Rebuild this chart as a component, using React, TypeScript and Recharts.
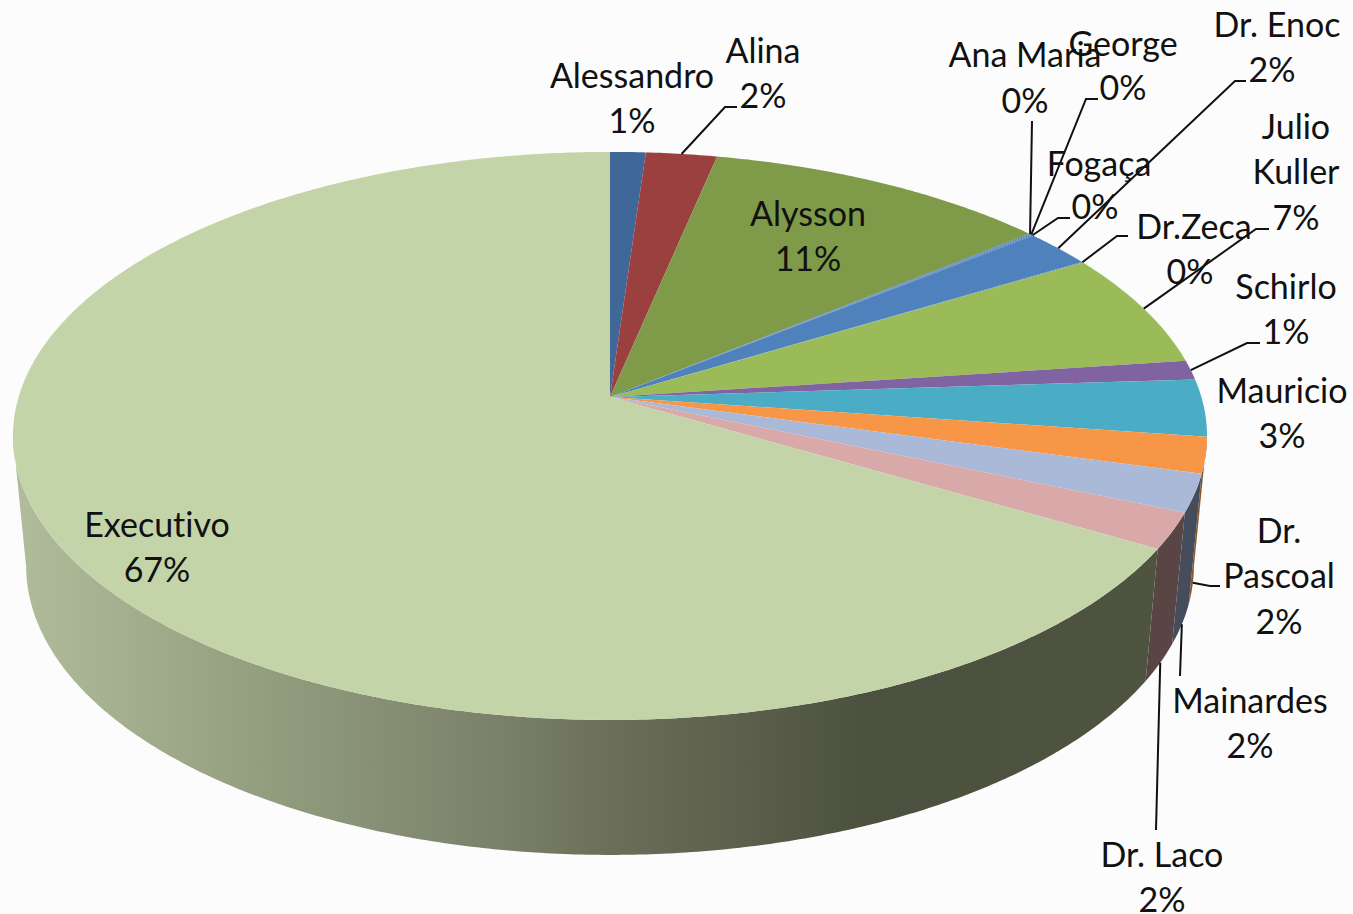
// App.tsx - 3D look pie of share per doctor
import React from "react";
import { PieChart, Pie, Cell } from "recharts";

const NAMES = [
  "Alessandro", "Alina", "Alysson", "Ana Maria", "George", "Fogaça", "Dr. Enoc", "Dr.Zeca",
  "Julio Kuller", "Schirlo", "Mauricio", "Dr. Pascoal", "Mainardes", "Dr. Laco", "Executivo",
];
const VALUES = [1.1, 2.2, 10.75, 0.05, 0.05, 0.05, 2.15, 0.05, 6.55, 1.1, 3.25, 2.05, 2.15, 2.05, 66.7];
const COLORS = [
  "#3f6797", "#9a4140", "#7f9a48", "#4f81bd", "#4f81bd", "#4f81bd", "#4f81bd", "#4f81bd",
  "#9bbb59", "#8064a2", "#4bacc6", "#f79646", "#a9b9d7", "#d9a8a8", "#c4d4a9",
];
const WALLS = [
  "#333", "#333", "#333", "#333", "#333", "#333", "#333", "#333",
  "#333", "#333", "#333", "#8b5624", "#454d5c", "#594644", "url(#execWall)",
];

// label placement: centre x, baselines, leader line points after the rim anchor
type Lab = { x: number; pctX?: number; lines: string[]; base: number[]; lead?: number[][]; wall?: number };
const LABELS: Lab[] = [
  { x: 632, lines: ["Alessandro"], base: [88, 133] },
  { x: 763, lines: ["Alina"], base: [63, 108], lead: [[725, 107], [737, 107]] },
  { x: 808, lines: ["Alysson"], base: [226, 271] },
  { x: 1025, lines: ["Ana Maria"], base: [67, 113], lead: [[1032, 121]] },
  { x: 1123, lines: ["George"], base: [56, 100], lead: [[1086, 99], [1098, 99]] },
  { x: 1099, pctX: 1095, lines: ["Fogaça"], base: [176, 219], lead: [[1058, 218], [1070, 218]] },
  { x: 1277, pctX: 1272, lines: ["Dr. Enoc"], base: [37, 82], lead: [[1235, 81], [1246, 81]] },
  { x: 1194, pctX: 1190, lines: ["Dr.Zeca"], base: [239, 284], lead: [[1117, 236], [1128, 236]] },
  { x: 1296, lines: ["Julio", "Kuller"], base: [139, 184, 230], lead: [[1256, 229], [1269, 229]] },
  { x: 1286, lines: ["Schirlo"], base: [299, 344], lead: [[1247, 343], [1260, 343]] },
  { x: 1282, lines: ["Mauricio"], base: [403, 448] },
  { x: 1279, lines: ["Dr.", "Pascoal"], base: [543, 588, 634], lead: [[1210, 586], [1220, 586]], wall: 0.98 },
  { x: 1250, lines: ["Mainardes"], base: [713, 758], lead: [[1180, 676]], wall: 1 },
  { x: 1162, lines: ["Dr. Laco"], base: [867, 912], lead: [[1156, 830]], wall: 1 },
  { x: 157, lines: ["Executivo"], base: [537, 582] },
];

// tilt of the disc: a rim angle goes through a perspective map, so the hub sits above the ellipse centre
const TILT = 0.137;
const FLAT_X = 0.9906;
const FLAT_Y = 0.4668;
const WALL_SCALE = 0.978;
const WALL_FROM = 98;
const WALL_TO = 262;

function rimPoint(cx: number, cy: number, r: number, clock: number) {
  const u = Math.sin((clock * Math.PI) / 180);
  const v = Math.cos((clock * Math.PI) / 180);
  const w = 1 + TILT * v;
  return { x: cx + (r * FLAT_X * u) / w, y: cy - (r * FLAT_Y * v) / w, v };
}

function wallPoint(cx: number, cy: number, r: number, clock: number) {
  const p = rimPoint(cx, cy, r, clock);
  const drop = 129 - 6 * Math.min(p.v, 0);
  return { x: cx + (p.x - cx) * WALL_SCALE, y: p.y + drop };
}

const SliceShape = (props: any) => {
  const { cx, cy, outerRadius, startAngle, endAngle, fill, index } = props;
  const a0 = 90 - startAngle;
  const a1 = 90 - endAngle;
  const rim: string[] = [];
  for (let a = a0; a < a1; a += 0.5) {
    const p = rimPoint(cx, cy, outerRadius, a);
    rim.push(`${p.x} ${p.y}`);
  }
  const last = rimPoint(cx, cy, outerRadius, a1);
  rim.push(`${last.x} ${last.y}`);

  // only the front of the rim shows a wall
  const w0 = Math.max(a0, WALL_FROM);
  const w1 = Math.min(a1, WALL_TO);
  let wall = null;
  if (w1 > w0) {
    const front: string[] = [];
    const back: string[] = [];
    for (let a = w0; a <= w1; a = a + 0.5) {
      const p = rimPoint(cx, cy, outerRadius, a);
      const q = wallPoint(cx, cy, outerRadius, a);
      front.push(`${p.x} ${p.y}`);
      back.unshift(`${q.x} ${q.y}`);
    }
    const pe = rimPoint(cx, cy, outerRadius, w1);
    const qe = wallPoint(cx, cy, outerRadius, w1);
    front.push(`${pe.x} ${pe.y}`);
    back.unshift(`${qe.x} ${qe.y}`);
    wall = <path d={`M${front.join("L")}L${back.join("L")}Z`} fill={WALLS[index ?? NAMES.indexOf(props.name)]} />;
  }
  return (
    <g>
      {wall}
      <path d={`M${cx} ${cy}L${rim.join("L")}Z`} fill={fill} />
    </g>
  );
};

const renderLabel = (props: any) => {
  const { cx, cy, outerRadius, startAngle, endAngle, percent, index } = props;
  const lab = LABELS[index];
  const mid = 90 - (startAngle + endAngle) / 2;
  let from = rimPoint(cx, cy, outerRadius, mid);
  if (lab.wall) {
    const q = wallPoint(cx, cy, outerRadius, mid);
    from = { ...from, x: from.x + (q.x - from.x) * lab.wall, y: from.y + (q.y - from.y) * lab.wall };
  }
  const pts = lab.lead ? [[from.x, from.y], ...lab.lead] : null;
  const rows = [...lab.lines, `${Math.round(percent * 100)}%`];
  return (
    <g key={index}>
      {pts && <polyline points={pts.map((p) => p.join(",")).join(" ")} fill="none" stroke="#111" strokeWidth={2} />}
      {rows.map((t, i) => (
        <text
          key={i}
          x={i === rows.length - 1 && lab.pctX ? lab.pctX : lab.x}
          y={lab.base[i]}
          textAnchor="middle"
          fontSize={34}
          fontFamily="Lato"
          fill="#111"
          style={{ fontVariantLigatures: "none" }}
        >
          {t}
        </text>
      ))}
    </g>
  );
};

const data = NAMES.map((name, i) => ({ name, value: VALUES[i] }));

export default function App() {
  return (
    <div style={{ position: "absolute", left: 0, top: 0, width: 1353, height: 914, background: "#fcfcfc", overflow: "hidden" }}>
      <PieChart width={1353} height={914} margin={{ top: 0, right: 0, bottom: 0, left: 0 }}>
        <defs>
          <linearGradient id="execWall" gradientUnits="userSpaceOnUse" x1="14" y1="0" x2="1150" y2="0">
            <stop offset="0" stopColor="#b0bc9a" />
            <stop offset="0.25" stopColor="#8f9a7c" />
            <stop offset="0.43" stopColor="#7a8069" />
            <stop offset="0.52" stopColor="#6c7059" />
            <stop offset="0.75" stopColor="#4c513f" />
            <stop offset="1" stopColor="#4f5441" />
          </linearGradient>
        </defs>
        <Pie
          data={data}
          dataKey="value"
          nameKey="name"
          cx={610}
          cy={397}
          outerRadius={597}
          startAngle={90}
          endAngle={-270}
          paddingAngle={0}
          stroke="none"
          shape={SliceShape}
          label={renderLabel}
          labelLine={false}
          isAnimationActive={false}
        >
          {data.map((d, i) => (
            <Cell key={d.name} fill={COLORS[i]} />
          ))}
        </Pie>
      </PieChart>
    </div>
  );
}
